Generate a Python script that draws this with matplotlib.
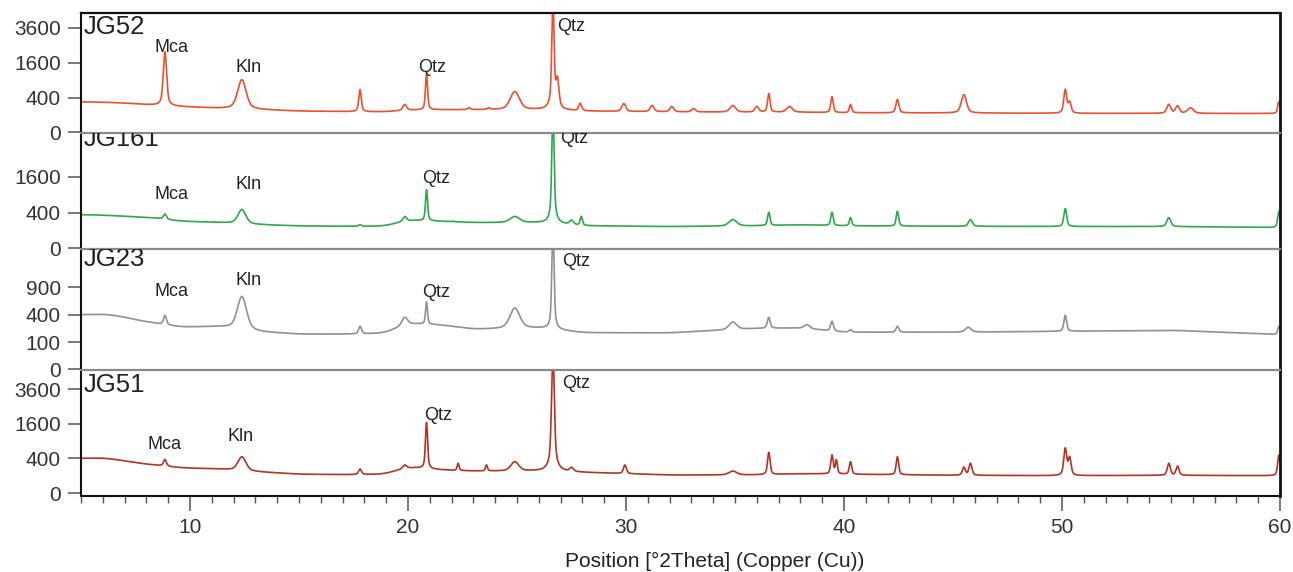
import numpy as np
import matplotlib
matplotlib.use("Agg")
import matplotlib.pyplot as plt
from matplotlib.ticker import FixedLocator, MultipleLocator, NullLocator

plt.rcParams['font.family'] = ['Liberation Sans', 'DejaVu Sans']

# ---------------------------------------------------------------- data
samples = ["JG52", "JG161", "JG23", "JG51"]
line_colors = ["#EE4F2F", "#2FA84B", "#8C9299", "#B33422"]

# background control points (°2θ) shared by all patterns
bg_pos = [5, 6, 6.5, 8, 8.5, 9.5, 11.5, 13, 15, 17, 19, 20, 21.5, 23, 26, 28,
          32, 36, 38, 40, 45, 50, 55, 60]

# background intensities (counts) at bg_pos
bg_jg52 = [310, 300, 295, 255, 238, 220, 188, 172, 150, 144, 140, 165, 170, 170,
           170, 150, 140, 135, 135, 128, 125, 120, 120, 118]
bg_jg161 = [357, 345, 335, 300, 290, 232, 208, 178, 158, 153, 155, 250, 230, 208,
            208, 160, 149, 160, 175, 160, 153, 150, 150, 136]
bg_jg23 = [400, 410, 395, 300, 285, 240, 245, 190, 166, 166, 175, 285, 265, 215,
           230, 180, 178, 225, 230, 185, 185, 194, 205, 162]
bg_jg51 = [400, 415, 380, 275, 261, 213, 191, 151, 118, 113, 118, 225, 178, 161,
           161, 142, 108, 110, 125, 118, 105, 100, 105, 100]

# reflections: position (°2θ), apex intensity (counts), FWHM (°2θ)
pk_pos_jg52 = [8.85, 12.38, 17.8, 19.85, 20.85, 22.8, 23.7, 24.9, 26.65, 26.85,
               27.9, 29.9, 31.2, 32.1, 33.1, 34.9, 36.0, 36.55, 37.5, 39.45,
               40.3, 42.45, 45.5, 50.15, 50.35, 54.9, 55.3, 55.9, 59.95]
pk_int_jg52 = [2140, 917, 605, 256, 1100, 200, 195, 549, 5600, 900,
               275, 275, 238, 220, 188, 238, 220, 497, 220, 423,
               256, 356, 471, 604, 300, 256, 230, 200, 314]
pk_fw_jg52 = [0.15, 0.40, 0.12, 0.20, 0.10, 0.15, 0.15, 0.45, 0.10, 0.15,
              0.15, 0.20, 0.20, 0.20, 0.20, 0.30, 0.20, 0.12, 0.30, 0.12,
              0.12, 0.15, 0.25, 0.14, 0.15, 0.20, 0.20, 0.30, 0.12]

pk_pos_jg161 = [8.85, 12.38, 17.8, 19.85, 20.85, 22.05, 24.9, 26.65, 27.5, 27.95,
                34.9, 36.55, 39.45, 40.3, 42.45, 45.8, 50.15, 54.9, 59.95]
pk_int_jg161 = [370, 469, 175, 316, 1074, 230, 316, 6000, 242, 316,
                260, 407, 407, 296, 429, 260, 494, 296, 429]
pk_fw_jg161 = [0.15, 0.40, 0.15, 0.20, 0.10, 0.15, 0.50, 0.10, 0.20, 0.12,
               0.40, 0.12, 0.12, 0.12, 0.12, 0.20, 0.14, 0.20, 0.12]

pk_pos_jg23 = [8.85, 12.38, 17.8, 19.85, 20.85, 24.9, 26.65, 34.9, 36.55, 38.3,
               39.45, 40.3, 42.45, 45.7, 50.15, 59.95]
pk_int_jg23 = [390, 711, 248, 362, 606, 503, 2800, 300, 362, 268,
               309, 211, 248, 237, 390, 248]
pk_fw_jg23 = [0.15, 0.45, 0.15, 0.30, 0.10, 0.50, 0.10, 0.40, 0.15, 0.30,
              0.15, 0.15, 0.15, 0.30, 0.14, 0.12]

pk_pos_jg51 = [8.85, 12.38, 17.8, 19.85, 20.85, 22.3, 23.6, 24.9, 26.65, 27.5,
               29.95, 34.9, 36.55, 39.45, 39.65, 40.3, 42.45, 45.5, 45.8, 50.15,
               50.35, 54.9, 55.3, 59.95]
pk_int_jg51 = [377, 439, 192, 261, 1650, 293, 261, 326, 6500, 208,
               261, 161, 551, 480, 360, 326, 439, 220, 293, 665,
               420, 293, 240, 480]
pk_fw_jg51 = [0.15, 0.40, 0.15, 0.20, 0.10, 0.10, 0.10, 0.40, 0.12, 0.20,
              0.15, 0.40, 0.12, 0.12, 0.10, 0.12, 0.12, 0.15, 0.15, 0.14,
              0.14, 0.15, 0.15, 0.12]

backgrounds = [bg_jg52, bg_jg161, bg_jg23, bg_jg51]
peak_positions = [pk_pos_jg52, pk_pos_jg161, pk_pos_jg23, pk_pos_jg51]
peak_apexes = [pk_int_jg52, pk_int_jg161, pk_int_jg23, pk_int_jg51]
peak_widths = [pk_fw_jg52, pk_fw_jg161, pk_fw_jg23, pk_fw_jg51]

y_ticks = [[0, 400, 1600, 3600], [0, 400, 1600], [0, 100, 400, 900],
           [0, 400, 1600, 3600]]

# phase labels: (text, °2θ, counts)
phase_labels = [
    [("Mca", 9.13, 2400), ("Kln", 12.7, 1380), ("Qtz", 21.1, 1380), ("Qtz", 27.5, 3670)],
    [("Mca", 9.17, 900), ("Kln", 12.67, 1264), ("Qtz", 21.3, 1534), ("Qtz", 27.6, 3770)],
    [("Mca", 9.13, 815), ("Kln", 12.67, 1047), ("Qtz", 21.3, 794), ("Qtz", 27.7, 1557)],
    [("Mca", 8.83, 783), ("Kln", 12.3, 1063), ("Qtz", 21.4, 2025), ("Qtz", 27.7, 3992)],
]

# ---------------------------------------------------------------- layout
# y limits in square-root units
sqrt_limits = [(-0.3, 68.5), (-0.3, 64.4), (-0.2, 44.0), (-1.7, 71.0)]
name_offsets = [(2, -1.7), (2, 4.3), (2, 1.4), (2, -2.2)]  # points
text_color = "#222222"


def sqrt_fwd(v):
    return np.sign(v) * np.sqrt(np.abs(v))


def sqrt_inv(v):
    return np.sign(v) * v ** 2


def smooth(y, step, sigma):
    half = int(4 * sigma / step)
    k = np.exp(-0.5 * (np.arange(-half, half + 1) * step / sigma) ** 2)
    k /= k.sum()
    padded = np.concatenate([np.full(half, y[0]), y, np.full(half, y[-1])])
    return np.convolve(padded, k, mode='valid')


def pattern(x, step, bg_vals, pos, apex, fwhm):
    base = smooth(np.interp(x, bg_pos, bg_vals), step, 0.35)
    y = base.copy()
    for p, a, w in zip(pos, apex, fwhm):
        h = a - np.interp(p, x, base)
        d = (x - p) / w
        gauss = np.exp(-4 * np.log(2) * d ** 2)
        lor = 1.0 / (1.0 + 4 * d ** 2)
        y += h * (0.55 * gauss + 0.45 * lor)
    return y


step = 0.01
two_theta = np.arange(5.0, 60.0 + step / 2, step)

fig = plt.figure(figsize=(12.93, 5.72), dpi=100)
gs = fig.add_gridspec(4, 1, left=81 / 1293, right=1280 / 1293,
                      top=1 - 13 / 572, bottom=1 - 496 / 572,
                      height_ratios=[120, 116, 121, 126], hspace=0)

axes = []
for i, name in enumerate(samples):
    ax = fig.add_subplot(gs[i, 0], sharex=axes[0] if axes else None)
    axes.append(ax)
    ax.set_yscale('function', functions=(sqrt_fwd, sqrt_inv))
    counts = pattern(two_theta, step, backgrounds[i], peak_positions[i],
                     peak_apexes[i], peak_widths[i])
    ax.plot(two_theta, counts, color=line_colors[i], lw=1.2)
    lo, hi = sqrt_limits[i]
    ax.set_ylim(sqrt_inv(lo), sqrt_inv(hi))
    ax.set_xlim(5, 60)
    ax.yaxis.set_major_locator(FixedLocator(y_ticks[i]))
    ax.yaxis.set_minor_locator(NullLocator())
    ax.set_yticklabels([str(t) for t in y_ticks[i]])
    ax.tick_params(axis='y', which='major', direction='out', length=9.5,
                   width=1.1, color="#555555", pad=5, labelsize=15,
                   labelcolor="#333333")

    for txt, xp, yp in phase_labels[i]:
        ax.text(xp, yp, txt, ha='center', va='center', fontsize=13,
                color=text_color, clip_on=True)

    ann = ax.annotate(name, xy=(0, 1), xycoords='axes fraction',
                      xytext=name_offsets[i], textcoords='offset points',
                      ha='left', va='top', fontsize=18.5, color=text_color,
                      annotation_clip=False)
    ann.set_clip_on(True)
    ann.set_clip_box(ax.bbox)

    for side in ('left', 'right'):
        ax.spines[side].set_color('#111111')
    ax.spines['left'].set_linewidth(1.5)
    ax.spines['right'].set_linewidth(2.0)
    if i == 0:
        ax.spines['top'].set_color('#111111')
    else:
        ax.spines['top'].set_color('#8a8a8a')
    ax.spines['top'].set_linewidth(1.6)
    if i < 3:
        ax.spines['bottom'].set_visible(False)
        ax.tick_params(axis='x', which='both', bottom=False, labelbottom=False)
    else:
        ax.spines['bottom'].set_color('#111111')
        ax.spines['bottom'].set_linewidth(1.5)

bottom_ax = axes[-1]
bottom_ax.xaxis.set_major_locator(FixedLocator([10, 20, 30, 40, 50, 60]))
bottom_ax.xaxis.set_minor_locator(MultipleLocator(1))
bottom_ax.tick_params(axis='x', which='major', direction='out', length=11,
                      width=1.1, color="#555555", pad=5, labelsize=15,
                      labelcolor="#333333")
bottom_ax.tick_params(axis='x', which='minor', direction='out', length=5,
                      width=1.0, color="#555555")

fig.text(715 / 1293, 1 - 561 / 572, "Position [°2Theta] (Copper (Cu))",
         ha='center', va='center', fontsize=15, color=text_color)

fig.savefig("out.png", dpi=100)
